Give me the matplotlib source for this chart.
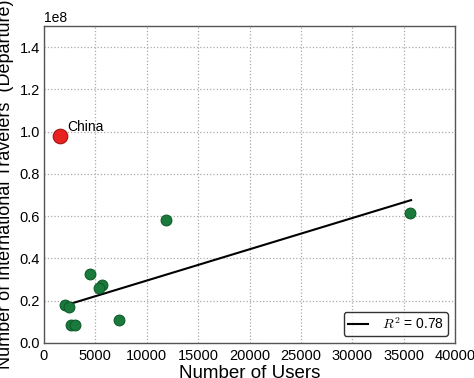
import numpy as np
import matplotlib
matplotlib.use('Agg')
import matplotlib.pyplot as plt

plt.rcParams['font.family'] = ['Liberation Sans', 'DejaVu Sans']
plt.rcParams['mathtext.fontset'] = 'cm'

# data
users = [11850, 4480, 5610, 5390, 2040, 2470, 2630, 2990, 7330, 35620]
travelers = [0.583e8, 0.327e8, 0.274e8, 0.261e8, 0.178e8, 0.170e8,
             0.084e8, 0.084e8, 0.110e8, 0.614e8]
china_users = [1560]
china_travelers = [0.978e8]
fit_x = [2200, 35720]
fit_y = [0.180e8, 0.676e8]
x_ticks = [0, 5000, 10000, 15000, 20000, 25000, 30000, 35000, 40000]
y_ticks = [0.0, 0.2e8, 0.4e8, 0.6e8, 0.8e8, 1.0e8, 1.2e8, 1.4e8]

fig = plt.figure(figsize=(4.74, 3.78), dpi=100)
ax = fig.add_axes([44 / 474, 35 / 378, 411 / 474, 317 / 378])

ax.scatter(users, travelers, s=60, color='#1a7a3c', edgecolors='#0f5a2a',
           linewidths=0.8, zorder=3)
ax.scatter(china_users, china_travelers, s=110, color='#e8231f',
           edgecolors='#a01010', linewidths=0.8, zorder=3)
ax.annotate('China', (china_users[0], china_travelers[0]),
            xytext=(5, 4), textcoords='offset points', fontsize=10)
ax.plot(fit_x, fit_y, color='black', linewidth=1.5, label='$R^2$ = 0.78',
        zorder=2)

ax.set_xlim(0, 40000)
ax.set_ylim(0, 1.5e8)
ax.set_xticks(x_ticks)
ax.set_yticks(y_ticks)
ax.tick_params(direction='in', labelsize=10.5, length=0, pad=4)
ax.tick_params(axis='y', pad=3)
ax.grid(True, linestyle=':', color='#aaaaaa', linewidth=0.9)
ax.set_axisbelow(True)
for sp in ax.spines.values():
    sp.set_color('#555555')
    sp.set_linewidth(1.0)
ax.yaxis.get_offset_text().set_fontsize(10)

ax.set_xlabel('Number of Users', fontsize=13.5, labelpad=2)
ax.set_ylabel('Number of International Travelers  (Departure)', fontsize=13,
              labelpad=4)

leg = ax.legend(loc='lower right', fontsize=10, fancybox=True,
                handlelength=1.45, handletextpad=1.0, borderpad=0.3,
                borderaxespad=0.5)
leg.get_frame().set_edgecolor('black')
leg.get_frame().set_linewidth(1.0)

fig.savefig('out.png', dpi=100)
